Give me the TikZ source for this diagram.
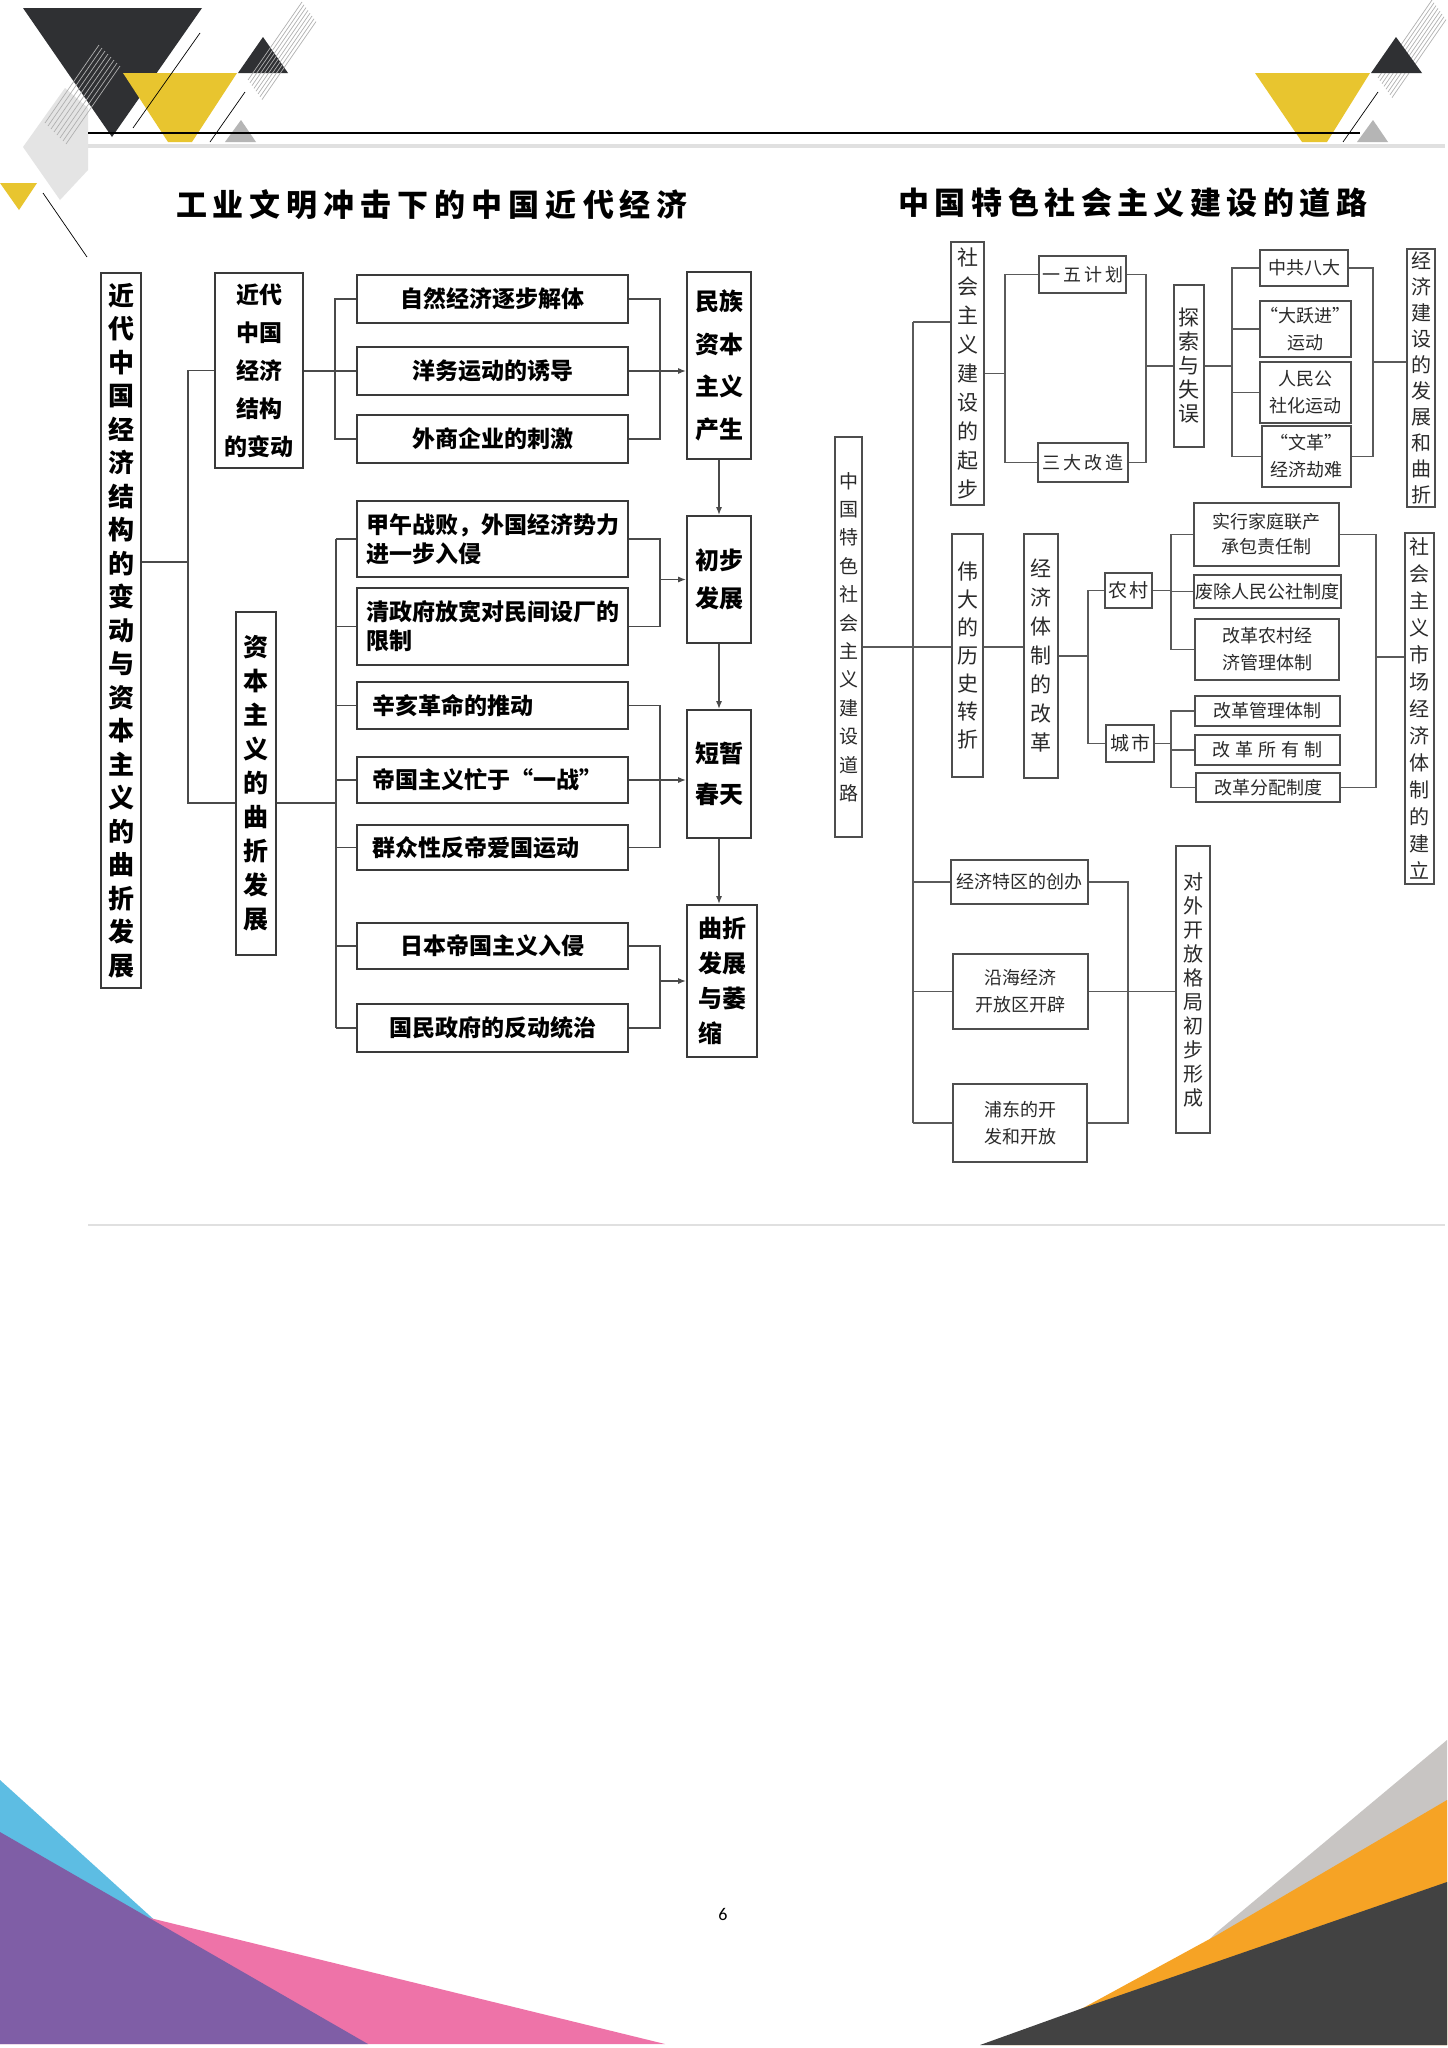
\documentclass[tikz,border=0pt]{standalone}
\usepackage{fontspec}
\setmainfont{Carlito}
\newfontfamily\cjk{Noto Sans CJK SC}
\usetikzlibrary{arrows.meta}
\newcommand\fsz[2]{\fontsize{#1}{#2}\selectfont}
\newcommand\tga{\hspace{6pt}}
\newcommand\tgb{\hspace{5.5pt}}
\definecolor{dk}{HTML}{2F3033}
\definecolor{yl}{HTML}{E8C52F}
\definecolor{lgray}{HTML}{E4E4E4}
\definecolor{mgray}{HTML}{B5B5B5}
\definecolor{hgray}{HTML}{E0E0E0}
\definecolor{htch}{HTML}{B0B0B0}
\definecolor{cblue}{HTML}{5DBDE3}
\definecolor{cpurp}{HTML}{7F5EA6}
\definecolor{cpink}{HTML}{EE73A8}
\definecolor{corng}{HTML}{F6A325}
\definecolor{cdgr}{HTML}{424242}
\definecolor{clgr}{HTML}{C8C5C3}
\definecolor{bxc}{HTML}{3A3A3A}
\definecolor{lnc}{HTML}{4A4A4A}
\definecolor{bxr}{HTML}{4E4E4E}
\definecolor{lnr}{HTML}{5A5A5A}
\definecolor{txr}{HTML}{2A2A2A}
\newcommand\bxnode[7]{\node[#6,minimum width={(#4-#2)*1pt},minimum height={(#5-#3)*1pt}] (#1) at ({(#2+#4)/2},{(#3+#5)/2}) {#7};}
\begin{document}
\begin{tikzpicture}[x=1pt,y=-1pt,
  bx/.style={draw=bxc,line width=1.6pt,inner sep=0pt,align=center,fill=white,text=black},
  rb/.style={draw=bxr,line width=1.3pt,inner sep=0pt,align=center,fill=white,text=txr},
  ln/.style={draw=lnc,line width=1.6pt},
  lr/.style={draw=lnr,line width=1.3pt},
  arr/.style={ln,-{Latex[length=8pt,width=6pt]}},
  lh/.style={font=\cjk\bfseries\fsz{23}{29}},
  ll/.style={lh,align=left,text width=245pt},
  rh/.style={font=\cjk\fsz{18}{27}},
  rv/.style={font=\cjk\fsz{21}{28}},
  hatch/.style={draw=htch,line width=0.7pt},
  thin/.style={draw=black,line width=0.7pt}]
\useasboundingbox (0,0) rectangle (1448,2048);
\fill[white] (0,0) rectangle (1448,2048);

% ---------- top decorations ----------
\fill[lgray] (23,147) -- (65,88) -- (88,108) -- (88,170) -- (60,200) -- cycle;
\fill[dk] (23,8) -- (202,8) -- (112,137) -- cycle;
\fill[yl] (123,73) -- (237,73) -- (192,142) -- (168,142) -- cycle;
\fill[dk] (238,73) -- (288,73) -- (263,37) -- cycle;
\fill[mgray] (225,142) -- (256,142) -- (241,120) -- cycle;
\fill[yl] (0,183) -- (37,183) -- (19,210) -- cycle;
\foreach \i in {0,...,7} {
  \draw[hatch] ({45+3*\i},{123+3*\i}) -- ++(54,-78);
  \draw[hatch] ({248+2*\i},{80+2.8*\i}) -- ++(54,-78);
  \draw[hatch] ({1378+2*\i},{78+2.8*\i}) -- ++(54,-78);
}
\draw[thin] (200,33) -- (133,128);
\draw[thin] (245,92) -- (210,142);
\draw[thin] (43,193) -- (87,257);
\fill[yl] (1255,73) -- (1370,73) -- (1327,142) -- (1302,142) -- cycle;
\fill[dk] (1371,73) -- (1422,73) -- (1396,37) -- cycle;
\fill[mgray] (1357,142) -- (1388,142) -- (1373,120) -- cycle;
\draw[thin] (1378,92) -- (1343,142);
\draw[black,line width=1.5pt] (88,133) -- (1360,133);
\draw[hgray,line width=3.5pt] (88,146) -- (1445,146);
\draw[hgray,line width=2pt] (88,1225) -- (1445,1225);

% ---------- bottom decorations ----------
\fill[cblue] (0,1780) -- (160,1925) -- (0,1925) -- cycle;
\fill[cpink] (150,1918) -- (665,2044) -- (0,2044) -- cycle;
\fill[cpurp] (0,1832) -- (368,2044) -- (0,2044) -- cycle;
\fill[clgr] (1217,1932) -- (1447,1740) -- (1447,2045) -- (1100,2045) -- cycle;
\fill[corng] (1083,2008) -- (1217,1935) -- (1447,1800) -- (1447,2045) -- (1000,2045) -- cycle;
\fill[cdgr] (980,2045) -- (1083,2008) -- (1447,1882) -- (1447,2045) -- cycle;
\node[font=\fsz{18}{20},text=black] (pg) at (723,1914) {6};

% ---------- titles ----------
\node[font=\cjk\bfseries\fsz{31}{38},text=black] (t1) at (432,205) {工\tga 业\tga 文\tga 明\tga 冲\tga 击\tga 下\tga 的\tga 中\tga 国\tga 近\tga 代\tga 经\tga 济};
\node[font=\cjk\bfseries\fsz{31}{38},text=black] (t2) at (1133,203) {中\tgb 国\tgb 特\tgb 色\tgb 社\tgb 会\tgb 主\tgb 义\tgb 建\tgb 设\tgb 的\tgb 道\tgb 路};

% ---------- left diagram ----------
\bxnode{L0}{101}{273}{141}{988}{bx,font=\cjk\bfseries\fsz{26}{33.5}}{近\\代\\中\\国\\经\\济\\结\\构\\的\\变\\动\\与\\资\\本\\主\\义\\的\\曲\\折\\发\\展}
\bxnode{L1}{215}{273}{303}{468}{bx,font=\cjk\bfseries\fsz{23}{38}}{近代\\中国\\经济\\结构\\的变动}
\bxnode{L2}{236}{612}{276}{955}{bx,font=\cjk\bfseries\fsz{25}{34}}{资\\本\\主\\义\\的\\曲\\折\\发\\展}
\bxnode{A1}{357}{275}{628}{323}{bx,lh}{自然经济逐步解体}
\bxnode{A2}{357}{347}{628}{395}{bx,lh}{洋务运动的诱导}
\bxnode{A3}{357}{415}{628}{463}{bx,lh}{外商企业的刺激}
\bxnode{B1}{357}{501}{628}{577}{bx,ll,text width=252pt}{甲午战败，外国经济势力\\进一步入侵}
\bxnode{B2}{357}{588}{628}{665}{bx,ll,text width=252pt}{清政府放宽对民间设厂的\\限制}
\bxnode{C1}{357}{682}{628}{729}{bx,ll,text width=241pt}{辛亥革命的推动}
\bxnode{C2}{357}{757}{628}{803}{bx,ll,text width=241pt}{帝国主义忙于“一战”}
\bxnode{C3}{357}{825}{628}{870}{bx,ll,text width=241pt}{群众性反帝爱国运动}
\bxnode{D1}{357}{923}{628}{969}{bx,lh}{日本帝国主义入侵}
\bxnode{D2}{357}{1004}{628}{1052}{bx,lh}{国民政府的反动统治}
\bxnode{R1}{687}{272}{751}{459}{bx,font=\cjk\bfseries\fsz{24}{42.5}}{民族\\资本\\主义\\产生}
\bxnode{R2}{687}{516}{751}{643}{bx,font=\cjk\bfseries\fsz{24}{38}}{初步\\发展}
\bxnode{R3}{687}{710}{751}{838}{bx,font=\cjk\bfseries\fsz{24}{41}}{短暂\\春天}
\bxnode{R4}{687}{905}{757}{1057}{bx,align=left,font=\cjk\bfseries\fsz{24}{35}}{曲折\\发展\\与萎\\缩}

\coordinate (jA) at (188,562);
\coordinate (jT) at (188,370.5);
\coordinate (jB) at (188,803);
\coordinate (xa) at (335,0);
\coordinate (xb) at (660,0);
\coordinate (xc) at (336,803);
\draw[ln] (L0.east |- jA) -- (jA);
\draw[ln] (L1.west) -- (L1.west -| jT) -- (jB) -- (L2.west |- jB);
\draw[ln] (A2.west -| L1.east) -- (A2.west);
\draw[ln] (A1.west) -- (A1.west -| xa) -- (A3.west -| xa) -- (A3.west);
\draw[ln] (A1.east) -- (A1.east -| xb) -- (A3.east -| xb) -- (A3.east);
\draw[arr] (A2.east) -- (A2.east -| R1.west);
\draw[ln] (xc -| L2.east) -- (xc);
\draw[ln] (B1.west -| xc) -- (D2.west -| xc);
\foreach \n in {B1,B2,C1,C2,C3,D1,D2} \draw[ln] (\n.west -| xc) -- (\n.west);
\draw[ln] (B1.east) -- (B1.east -| xb) -- (B2.east -| xb) -- (B2.east);
\draw[arr] (R2.west -| xb) -- (R2.west);
\draw[ln] (C1.east) -- (C1.east -| xb) -- (C3.east -| xb) -- (C3.east);
\draw[arr] (C2.east) -- (C2.east -| R3.west);
\draw[ln] (D1.east) -- (D1.east -| xb) -- (D2.east -| xb) -- (D2.east);
\draw[arr] (R4.west -| xb) -- (R4.west);
\draw[arr] (R1.south) -- (R2.north);
\draw[arr] (R2.south) -- (R3.north);
\draw[arr] (R3.south) -- (R3.south |- R4.north);

% ---------- right diagram ----------
\bxnode{M0}{835}{437}{862}{837}{rb,font=\cjk\fsz{19}{28.4}}{中\\国\\特\\色\\社\\会\\主\\义\\建\\设\\道\\路}
\bxnode{S1}{951}{242}{984}{505}{rb,font=\cjk\fsz{21}{29}}{社\\会\\主\\义\\建\\设\\的\\起\\步}
\bxnode{S2}{1039}{256}{1126}{293}{rb,rh}{一\hspace{3pt}五\hspace{3pt}计\hspace{3pt}划}
\bxnode{S3}{1038}{443}{1128}{482}{rb,rh}{三\hspace{3pt}大\hspace{3pt}改\hspace{3pt}造}
\bxnode{S4}{1174}{285}{1204}{447}{rb,font=\cjk\fsz{21}{24}}{探\\索\\与\\失\\误}
\bxnode{S5}{1260}{250}{1348}{286}{rb,rh}{中共八大}
\bxnode{S6}{1260}{301}{1351}{357}{rb,rh}{“大跃进”\\运动}
\bxnode{S7}{1260}{362}{1351}{423}{rb,rh}{人民公\\社化运动}
\bxnode{S8}{1262}{426}{1351}{487}{rb,rh}{“文革”\\经济劫难}
\bxnode{S9}{1407}{249}{1435}{507}{rb,font=\cjk\fsz{20}{26}}{经\\济\\建\\设\\的\\发\\展\\和\\曲\\折}
\bxnode{T1}{952}{534}{983}{777}{rb,font=\cjk\fsz{21}{28}}{伟\\大\\的\\历\\史\\转\\折}
\bxnode{T2}{1024}{534}{1058}{778}{rb,font=\cjk\fsz{21}{29}}{经\\济\\体\\制\\的\\改\\革}
\bxnode{T3}{1105}{573}{1152}{608}{rb,font=\cjk\fsz{19}{24}}{农\hspace{2pt}村}
\bxnode{T4}{1106}{725}{1154}{762}{rb,font=\cjk\fsz{19}{24}}{城\hspace{2pt}市}
\bxnode{U1}{1194}{503}{1339}{566}{rb,font=\cjk\fsz{18}{25}}{实行家庭联产\\承包责任制}
\bxnode{U2}{1194}{575}{1341}{608}{rb,rh}{废除人民公社制度}
\bxnode{U3}{1195}{619}{1339}{680}{rb,rh}{改革农村经\\济管理体制}
\bxnode{U4}{1195}{696}{1340}{726}{rb,rh}{改革管理体制}
\bxnode{U5}{1195}{735}{1340}{765}{rb,rh}{改\hspace{5pt}革\hspace{5pt}所\hspace{5pt}有\hspace{5pt}制}
\bxnode{U6}{1196}{773}{1340}{802}{rb,rh}{改革分配制度}
\bxnode{T5}{1405}{533}{1434}{884}{rb,font=\cjk\fsz{20}{27}}{社\\会\\主\\义\\市\\场\\经\\济\\体\\制\\的\\建\\立}
\bxnode{V1}{951}{860}{1088}{904}{rb,rh}{经济特区的创办}
\bxnode{V2}{953}{954}{1088}{1029}{rb,rh}{沿海经济\\开放区开辟}
\bxnode{V3}{953}{1084}{1087}{1162}{rb,rh}{浦东的开\\发和开放}
\bxnode{V4}{1176}{846}{1210}{1133}{rb,font=\cjk\fsz{20}{24}}{对\\外\\开\\放\\格\\局\\初\\步\\形\\成}

\coordinate (tr) at (913,0);
\coordinate (ty1) at (913,322);
\coordinate (ty2) at (913,647);
\coordinate (x1) at (1005,0);
\coordinate (x2) at (1146,0);
\coordinate (x3) at (1232,0);
\coordinate (x4) at (1373,362);
\coordinate (x5) at (1088,0);
\coordinate (x6) at (1171,0);
\coordinate (x7) at (1376,657);
\coordinate (x8) at (1128,0);
\draw[lr] (ty1) -- (V3.west -| tr);
\draw[lr] (ty1) -- (ty1 -| S1.west);
\draw[lr] (ty2 -| M0.east) -- (ty2 -| T1.west);
\draw[lr] (ty2 -| T1.east) -- (ty2 -| T2.west);
\foreach \n in {V1,V2,V3} \draw[lr] (\n.west -| tr) -- (\n.west);
\draw[lr] (S1.east) -- (S1.east -| x1);
\draw[lr] (S2.west) -- (S2.west -| x1) -- (S3.west -| x1) -- (S3.west);
\draw[lr] (S2.east) -- (S2.east -| x2) -- (S3.east -| x2) -- (S3.east);
\draw[lr] (S4.west -| x2) -- (S4.west);
\draw[lr] (S4.east) -- (S4.east -| x3);
\draw[lr] (S5.west) -- (S5.west -| x3) -- (S8.west -| x3) -- (S8.west);
\draw[lr] (S6.west -| x3) -- (S6.west);
\draw[lr] (S7.west -| x3) -- (S7.west);
\draw[lr] (S5.east) -- (S5.east -| x4) -- (S8.east -| x4) -- (S8.east);
\draw[lr] (x4) -- (x4 -| S9.west);
\draw[lr] (T2.east) -- (T2.east -| x5);
\draw[lr] (T3.west) -- (T3.west -| x5) -- (T4.west -| x5) -- (T4.west);
\draw[lr] (T3.east) -- (T3.east -| x6);
\draw[lr] (U1.west) -- (U1.west -| x6) -- (U3.west -| x6) -- (U3.west);
\draw[lr] (U2.west -| x6) -- (U2.west);
\draw[lr] (T4.east) -- (T4.east -| x6);
\draw[lr] (U4.west) -- (U4.west -| x6) -- (U6.west -| x6) -- (U6.west);
\draw[lr] (U5.west -| x6) -- (U5.west);
\draw[lr] (U1.east) -- (U1.east -| x7) -- (U6.east -| x7) -- (U6.east);
\draw[lr] (x7) -- (x7 -| T5.west);
\draw[lr] (V1.east) -- (V1.east -| x8) -- (V3.east -| x8) -- (V3.east);
\draw[lr] (V2.east) -- (V2.east -| V4.west);
\end{tikzpicture}
\end{document}
